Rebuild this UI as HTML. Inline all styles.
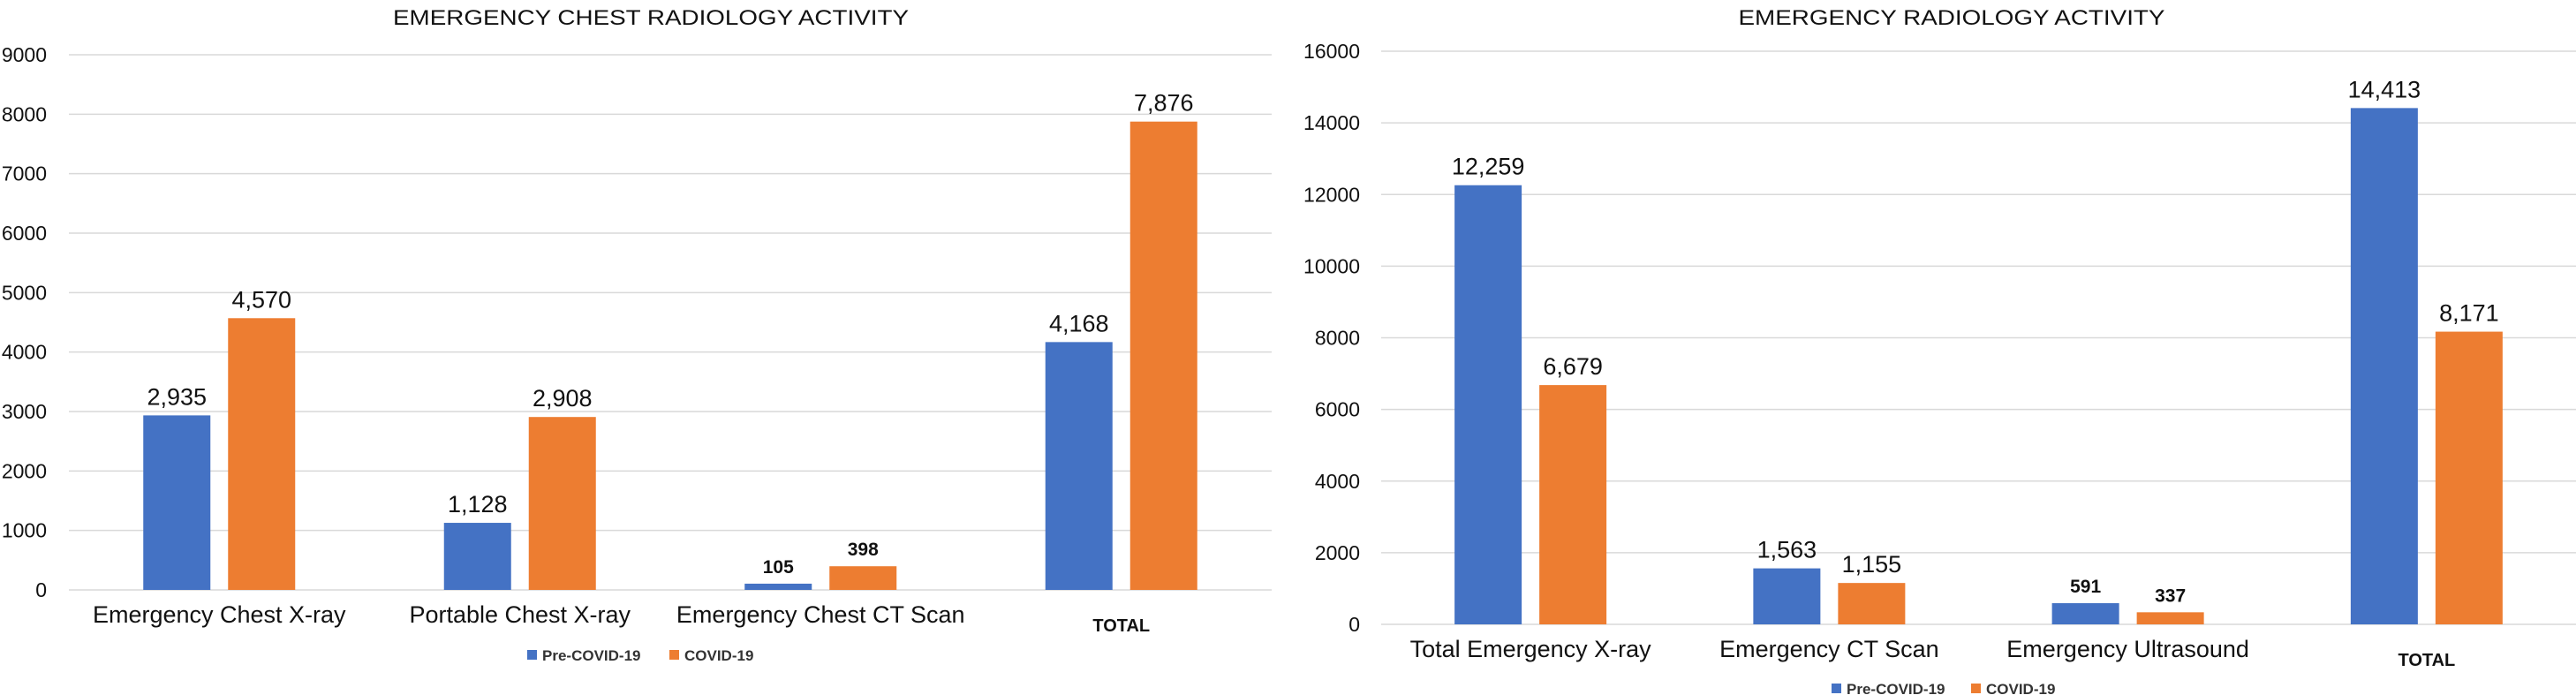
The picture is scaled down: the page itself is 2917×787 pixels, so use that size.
<!DOCTYPE html>
<html><head><meta charset="utf-8"><style>
html,body{margin:0;padding:0;background:#fff;}
svg{display:block;font-family:"Liberation Sans",Arial,sans-serif;}
</style></head><body>
<svg id="chart" width="2917" height="787" viewBox="0 0 2917 787" xmlns="http://www.w3.org/2000/svg"></svg>
<script>
// Left chart data
const leftCategories = ["Emergency Chest X-ray", "Portable Chest X-ray", "Emergency Chest CT Scan", "TOTAL"];
const leftPre = [2935, 1128, 105, 4168];
const leftCovid = [4570, 2908, 398, 7876];
const leftTicks = [0, 1000, 2000, 3000, 4000, 5000, 6000, 7000, 8000, 9000];
// Right chart data
const rightCategories = ["Total Emergency X-ray", "Emergency CT Scan", "Emergency Ultrasound", "TOTAL"];
const rightPre = [12259, 1563, 591, 14413];
const rightCovid = [6679, 1155, 337, 8171];
const rightTicks = [0, 2000, 4000, 6000, 8000, 10000, 12000, 14000, 16000];
const seriesNames = ["Pre-COVID-19", "COVID-19"];

const NS = "http://www.w3.org/2000/svg";
const svg = document.getElementById("chart");
function mk(tag, attrs, parent, text) {
  const e = document.createElementNS(NS, tag);
  for (const k in attrs) e.setAttribute(k, attrs[k]);
  if (text !== undefined) e.textContent = text;
  (parent || svg).appendChild(e);
  return e;
}
const fmt = v => v.toLocaleString("en-US");

function drawChart(cfg) {
  const g = mk("g", {});
  
  
  const yScale = v => cfg.y0 - (v - cfg.min) / (cfg.max - cfg.min) * (cfg.y0 - cfg.yTop);
  const catW = (cfg.xR - cfg.xL) / cfg.cats.length;
  const xCenter = i => cfg.xL + catW * (i + 0.5);

  const t = mk("text", {x: cfg.titleX, y: 28, "font-size": 24, "text-anchor": "middle", fill: "#111", textLength: cfg.titleW, lengthAdjust: "spacingAndGlyphs"}, g, cfg.title);
  
  

  cfg.ticks.forEach(v => {
    const y = yScale(v);
    const ln = mk("line", {x1: cfg.xL, x2: cfg.xR, y1: y, y2: y, stroke: "#d9d9d9", "stroke-width": 1.5}, g);
    
    
    const tl = mk("text", {x: cfg.tickX, y: y + 8, "font-size": 23, "text-anchor": "end", fill: "#111"}, g, String(v));
    
    
  });

  cfg.cats.forEach((c, i) => {
    const cx = xCenter(i);
    [[cfg.pre, "#4472C4", -1], [cfg.covid, "#ED7D31", 1]].forEach(([arr, col, side], si) => {
      const v = arr[i];
      const x = side < 0 ? cx - 86 : cx + 10;
      const y = yScale(v);
      const r = mk("rect", {x: x, y: y, width: 76, height: cfg.y0 - y, fill: col}, g);
      
      
      const small = v < 1000;
      const lb = mk("text", {x: x + 38, y: y - 12, "font-size": small ? 21 : 27, "font-weight": small ? "bold" : "normal", "text-anchor": "middle", fill: "#111"}, g, small ? String(v) : fmt(v));
      
      
    });
    const isTotal = c === "TOTAL";
    const cl = mk("text", {x: cx, y: isTotal ? cfg.catY + 10 : cfg.catY, "font-size": isTotal ? 20 : 27, "font-weight": isTotal ? "bold" : "normal", "text-anchor": "middle", fill: "#111"}, g, c);
    
    
  });

  [["#4472C4", seriesNames[0], cfg.legX[0]], ["#ED7D31", seriesNames[1], cfg.legX[1]]].forEach(([col, name, lx]) => {
    const sq = mk("rect", {x: lx, y: cfg.legY - 6, width: 11, height: 11, fill: col}, g);
    
    
    const lt = mk("text", {x: lx + 17, y: cfg.legY + 6, "font-size": 17, "font-weight": "bold", fill: "#333"}, g, name);
    
    
  });
}

drawChart({name: "chest-radiology-chart", title: "EMERGENCY CHEST RADIOLOGY ACTIVITY", titleX: 737, titleW: 584,
  cats: leftCategories, pre: leftPre, covid: leftCovid, ticks: leftTicks, min: 0, max: 9000,
  xL: 78, xR: 1440, y0: 668, yTop: 62, tickX: 53, catY: 705, legY: 742, legX: [597, 758]});
drawChart({name: "radiology-chart", title: "EMERGENCY RADIOLOGY ACTIVITY", titleX: 2210, titleW: 483,
  cats: rightCategories, pre: rightPre, covid: rightCovid, ticks: rightTicks, min: 0, max: 16000,
  xL: 1564, xR: 2917, y0: 707, yTop: 58, tickX: 1540, catY: 744, legY: 780, legX: [2074, 2232]});
</script>
</body></html>
